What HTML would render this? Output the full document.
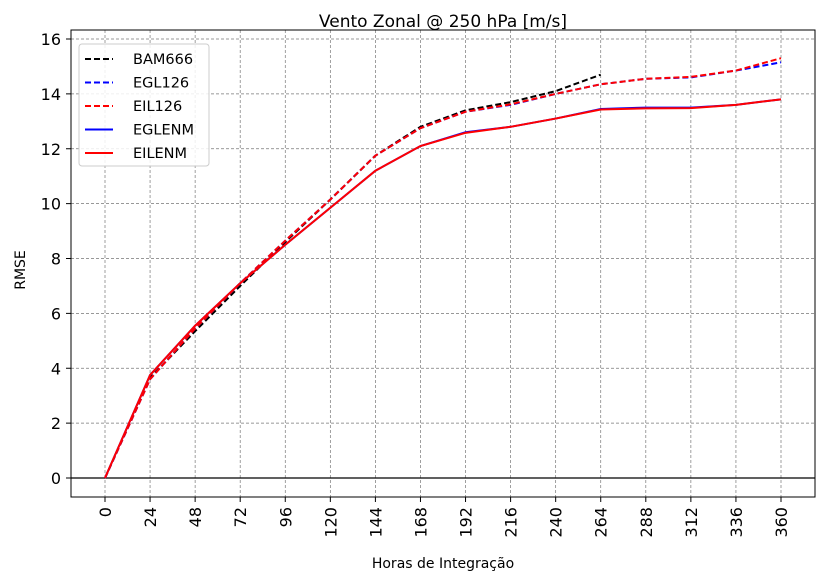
<!DOCTYPE html>
<html><head><meta charset="utf-8"><style>
body{margin:0;background:#fff;font-family:"Liberation Sans","DejaVu Sans",sans-serif}
svg text{font-family:"DejaVu Sans","Liberation Sans",sans-serif}
</style></head><body>
<svg id="chart" width="826" height="582" xmlns="http://www.w3.org/2000/svg">
<rect width="826" height="582" fill="#fff"/>
<text x="443" y="27" font-size="17" text-anchor="middle">Vento Zonal @ 250 hPa [m/s]</text>
<g id="grid"></g>
<g id="series"></g>
<rect x="71" y="30" width="744" height="467" fill="none" stroke="#000" stroke-width="1"/>
<g id="axes"></g>
<text x="443" y="568" font-size="14" text-anchor="middle">Horas de Integração</text>
<text transform="translate(25,270) rotate(-90)" font-size="14" text-anchor="middle">RMSE</text>
<g id="legend"></g>
</svg>
<script>
const hours=[0,24,48,72,96,120,144,168,192,216,240,264,288,312,336,360];
const yTicks=[0,2,4,6,8,10,12,14,16];
const bam666=[0,3.65,5.35,7.0,8.6,10.15,11.75,12.8,13.4,13.7,14.1,14.7];
const egl126=[0,3.6,5.45,7.1,8.65,10.15,11.75,12.75,13.35,13.6,14.0,14.35,14.55,14.6,14.85,15.15];
const eil126=[0,3.6,5.45,7.1,8.65,10.15,11.75,12.75,13.35,13.62,14.0,14.35,14.55,14.62,14.85,15.3];
const eglenm=[0,3.75,5.55,7.1,8.5,9.85,11.2,12.1,12.6,12.8,13.1,13.45,13.5,13.5,13.6,13.8];
const eilenm=[0,3.75,5.55,7.1,8.5,9.85,11.2,12.1,12.58,12.8,13.1,13.43,13.47,13.48,13.6,13.8];
const NS="http://www.w3.org/2000/svg";
const X=h=>105+(h/360)*676;
const Y=v=>478-v*(439/16);
function mk(t,a,p){const e=document.createElementNS(NS,t);for(const k in a)e.setAttribute(k,a[k]);p.appendChild(e);return e;}
const grid=document.getElementById('grid'),axes=document.getElementById('axes'),ser=document.getElementById('series'),leg=document.getElementById('legend');
hours.forEach(h=>{
 const l=mk('line',{x1:X(h),x2:X(h),y1:30,y2:497,stroke:'#777','stroke-width':0.7,'stroke-dasharray':'3,2'},grid);
 
 
 mk('line',{x1:X(h),x2:X(h),y1:497,y2:502,stroke:'#000'},axes);
 const t=mk('text',{transform:`translate(${X(h)+6},507) rotate(-90)`,'font-size':16,'text-anchor':'end'},axes);
 t.textContent=h;
 
 
});
yTicks.forEach(v=>{
 const l=mk('line',{x1:71,x2:815,y1:Y(v),y2:Y(v),stroke:'#777','stroke-width':0.7,'stroke-dasharray':'3,2'},grid);
 
 
 mk('line',{x1:66,x2:71,y1:Y(v),y2:Y(v),stroke:'#000'},axes);
 const t=mk('text',{x:61,y:Y(v)+6,'font-size':16,'text-anchor':'end'},axes);
 t.textContent=v;
 
 
});
const zl=mk('line',{x1:71,x2:815,y1:Y(0),y2:Y(0),stroke:'#000','stroke-width':1.2},grid);


const S=[["BAM666",bam666,"#000",true],["EGL126",egl126,"#00f",true],["EIL126",eil126,"#f00",true],["EGLENM",eglenm,"#00f",false],["EILENM",eilenm,"#f00",false]];
S.forEach((s,i)=>{
 const p=mk('polyline',{points:s[1].map((v,j)=>X(hours[j])+','+Y(v)).join(' '),fill:'none',stroke:s[2],'stroke-width':2,'stroke-dasharray':s[3]?'6,3':'none'},ser);
 
 
});
const box=mk('rect',{x:79,y:44,width:130,height:122,rx:3,fill:'#fff','fill-opacity':0.85,stroke:'#ccc'},leg);


S.forEach((s,i)=>{
 const y=59+i*23.5;
 const l=mk('line',{x1:85,x2:113,y1:y,y2:y,stroke:s[2],'stroke-width':2,'stroke-dasharray':s[3]?'6,3':'none'},leg);
 
 
 const t=mk('text',{x:133,y:y+5,'font-size':14.5},leg);
 t.textContent=s[0];
 
 
});
</script>
</body></html>
